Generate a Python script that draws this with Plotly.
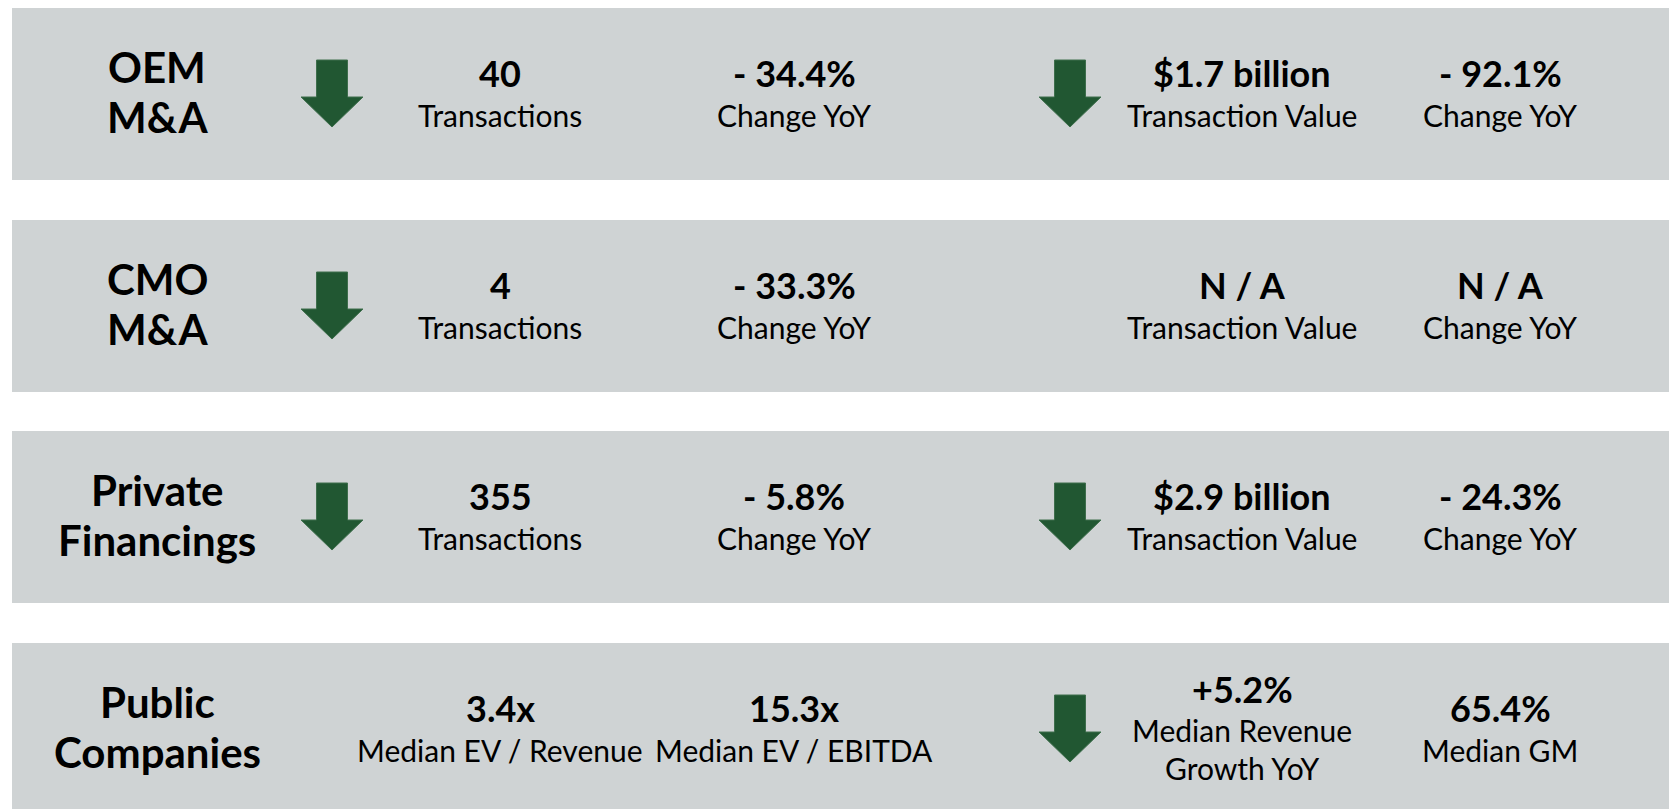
import plotly.graph_objects as go

# ---------------- data ----------------
categories = ["OEM<br>M&A", "CMO<br>M&A", "Private<br>Financings", "Public<br>Companies"]
metric1_values = ["40", "4", "355", "3.4x"]
metric1_labels = ["Transactions", "Transactions", "Transactions", "Median EV / Revenue"]
metric2_values = ["- 34.4%", "- 33.3%", "- 5.8%", "15.3x"]
metric2_labels = ["Change YoY", "Change YoY", "Change YoY", "Median EV / EBITDA"]
metric3_values = ["$1.7 billion", "N / A", "$2.9 billion", "+5.2%"]
metric3_labels = ["Transaction Value", "Transaction Value", "Transaction Value", "Median Revenue<br>Growth YoY"]
metric4_values = ["- 92.1%", "N / A", "- 24.3%", "65.4%"]
metric4_labels = ["Change YoY", "Change YoY", "Change YoY", "Median GM"]
count_arrow_down = [True, True, True, False]
value_arrow_down = [True, False, True, True]

# ---------------- style / layout ----------------
W, H = 1669, 809
BAND_COLOR = "#CFD3D4"
ARROW_COLOR = "#215732"
TEXT_COLOR = "#000000"
FONT = "Lato, 'Source Sans Pro', 'Open Sans', sans-serif"

band_tops = [8, 220, 431, 643]
band_h = 172
band_x0 = 12

x_label = 157
x_arrow1 = 332
x_col1 = 500
x_col2 = 794
x_arrow2 = 1070
x_col3 = 1242
x_col4 = 1500

LABEL_SIZE = 42
VALUE_SIZE = 36
CAPTION_SIZE = 30

fig = go.Figure()

shapes = []
annotations = []


def add_text(x, baseline, text, size, bold):
    # convert a baseline position into the annotation's middle position
    yc = baseline - 0.387 * size
    annotations.append(dict(
        x=x, y=yc, xref="x", yref="y", text=(f"<b>{text}</b>" if bold else text),
        showarrow=False, xanchor="center", yanchor="middle",
        font=dict(family=FONT, size=size, color=TEXT_COLOR), borderpad=0,
    ))


def add_arrow(cx, t):
    sw, hw = 15.5, 31
    path = (f"M {cx - sw},{t + 52} L {cx + sw},{t + 52} L {cx + sw},{t + 89} "
            f"L {cx + hw},{t + 89} L {cx},{t + 119} L {cx - hw},{t + 89} "
            f"L {cx - sw},{t + 89} Z")
    shapes.append(dict(type="path", path=path, xref="x", yref="y",
                       fillcolor=ARROW_COLOR, line=dict(color="#3E6E4C", width=1),
                       layer="above"))


def add_cell(x, t, value, caption):
    cap_lines = caption.split("<br>")
    if len(cap_lines) == 1:
        add_text(x, t + 79, value, VALUE_SIZE, True)
        add_text(x, t + 119, cap_lines[0], CAPTION_SIZE, False)
    else:
        add_text(x, t + 60, value, VALUE_SIZE, True)
        for k, line in enumerate(cap_lines):
            add_text(x, t + 99 + 37.5 * k, line, CAPTION_SIZE, False)


for i, cat in enumerate(categories):
    t = band_tops[i]
    shapes.append(dict(type="rect", xref="x", yref="y", x0=band_x0, x1=W,
                       y0=t, y1=min(t + band_h, H), fillcolor=BAND_COLOR,
                       line=dict(width=0), layer="below"))
    lines = cat.split("<br>")
    for k, line in enumerate(lines):
        add_text(x_label, t + 75 + 50 * k, line, LABEL_SIZE, True)
    if count_arrow_down[i]:
        add_arrow(x_arrow1, t)
    if value_arrow_down[i]:
        add_arrow(x_arrow2, t)
    add_cell(x_col1, t, metric1_values[i], metric1_labels[i])
    add_cell(x_col2, t, metric2_values[i], metric2_labels[i])
    add_cell(x_col3, t, metric3_values[i], metric3_labels[i])
    add_cell(x_col4, t, metric4_values[i], metric4_labels[i])

fig.update_layout(
    width=W, height=H, autosize=False,
    margin=dict(l=0, r=0, t=0, b=0, pad=0),
    paper_bgcolor="white", plot_bgcolor="white",
    xaxis=dict(range=[0, W], visible=False, fixedrange=True),
    yaxis=dict(range=[H, 0], visible=False, fixedrange=True),
    shapes=shapes, annotations=annotations, showlegend=False,
)

fig.write_html("out.html", config={"displayModeBar": False},
               post_script="document.body.style.margin='0';document.body.style.overflow='hidden';")
